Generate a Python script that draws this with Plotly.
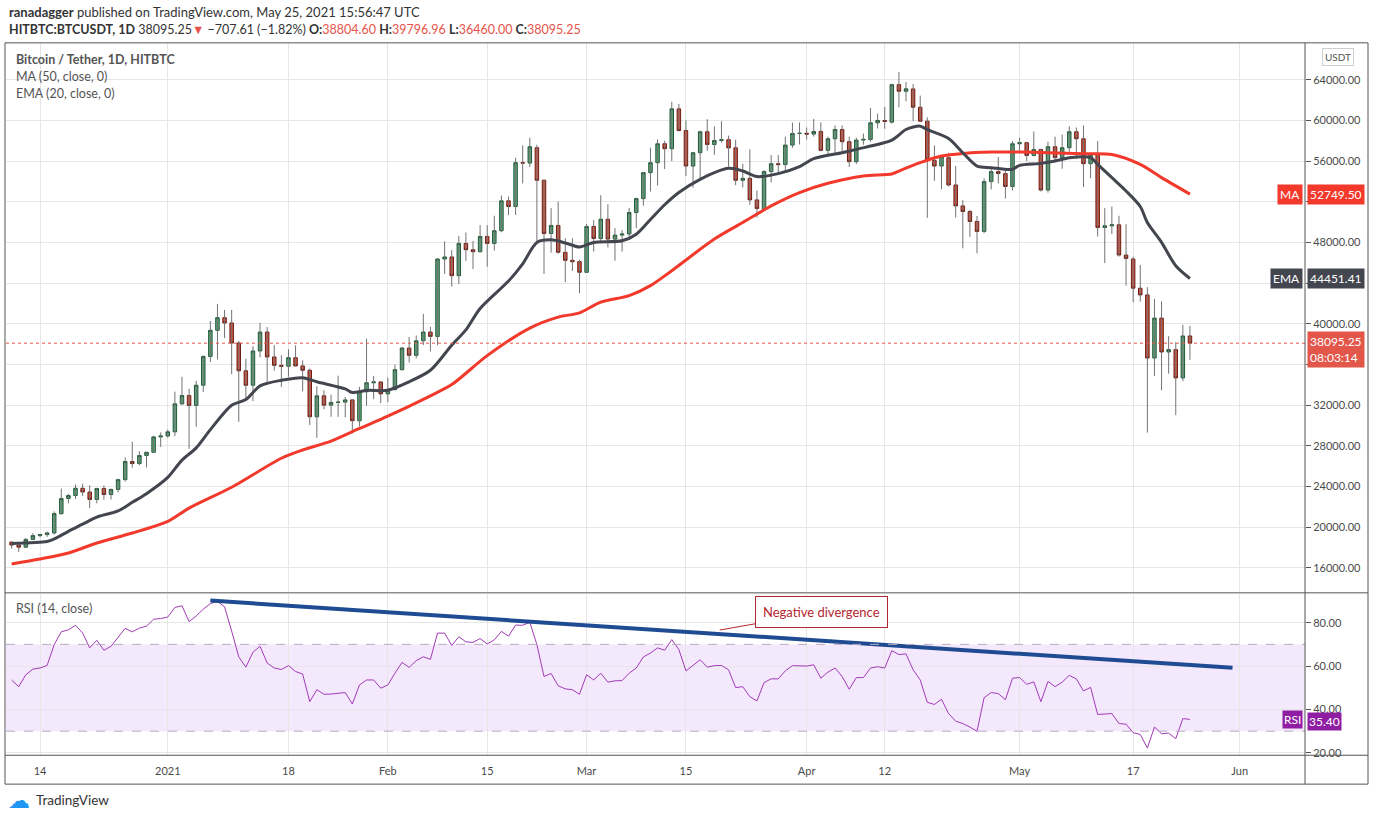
import pandas as pd
import plotly.graph_objects as go

# daily candles, HITBTC BTC/USDT, 10 Dec 2020 -> 25 May 2021
dates = pd.date_range("2020-12-10", "2021-05-25", freq="D")

opens = [
    18540, 18250, 18040, 18800, 19180, 19280, 19440, 21340, 22820, 23120,
    23830, 23460, 22730, 23810, 23220, 23720, 24680, 26460, 26260, 27050,
    27370, 28880, 28970, 29380, 32130, 32950, 31980, 33960, 36790, 39360,
    40600, 40080, 38110, 35380, 33960, 37330, 39190, 36740, 35920, 35830,
    36670, 35860, 35430, 30860, 32920, 32000, 32270, 32300, 32520, 30470,
    33320, 34200, 34280, 33110, 33530, 35490, 37620, 36900, 38330, 39190,
    38760, 46370, 46570, 44730, 47900, 47280, 47090, 48590, 47900, 49150,
    52090, 51530, 55840, 55800, 57310, 54110, 48880, 49670, 47030, 46240,
    46110, 45060, 49570, 48390, 50280, 48330, 48720, 48830, 50940, 52310,
    54860, 55840, 57700, 57210, 61130, 59000, 55510, 56820, 58880, 57630,
    58020, 58100, 57300, 54110, 54300, 52180, 51200, 54960, 55740, 55650,
    57570, 58710, 58730, 58650, 58910, 57050, 58190, 59100, 57900, 55940,
    58060, 58120, 59760, 59990, 59820, 63510, 62860, 63090, 61290, 59920,
    56070, 55510, 56330, 53650, 51590, 51040, 50060, 49080, 53980, 54960,
    54770, 53500, 57700, 57800, 56550, 57140, 53150, 57410, 56330, 57310,
    58880, 58190, 55740, 56650, 49470, 49630, 49730, 46760, 46370, 43500,
    42840, 36640, 40560, 37230, 37460, 34680, 38804.60,
]
highs = [
    18570, 18290, 18950, 19420, 19350, 19570, 21560, 23800, 23280, 24200,
    24280, 24120, 23870, 24110, 23790, 24780, 26870, 28400, 27480, 27400,
    28990, 29320, 29600, 33330, 34780, 33600, 34400, 36900, 40270, 41960,
    41370, 41370, 38320, 36570, 37800, 40100, 39680, 37900, 36900, 37490,
    37880, 36400, 35600, 33860, 33470, 33040, 34900, 32800, 32580, 33800,
    38530, 34880, 34300, 34700, 35980, 37700, 38700, 38850, 40980, 39700,
    46450, 48100, 47250, 48650, 48980, 48150, 49700, 49700, 50620, 52600,
    52510, 56330, 57540, 58290, 57600, 54200, 51370, 52020, 48420, 48420,
    46300, 49800, 50200, 52640, 51750, 49400, 49200, 51400, 52400, 54900,
    57310, 58120, 58000, 61820, 61620, 60000, 56900, 58980, 60120, 59400,
    59920, 58500, 58100, 55740, 57150, 53100, 55100, 56590, 56600, 58390,
    59770, 59800, 59300, 60150, 59800, 58400, 59500, 59500, 58400, 58300,
    58700, 61230, 60670, 61320, 63600, 64750, 63770, 63560, 62430, 60300,
    57530, 56600, 56800, 55510, 52150, 51200, 50600, 54300, 55450, 56390,
    55300, 57950, 58300, 57900, 58900, 57200, 57900, 58400, 58600, 59430,
    59300, 59500, 56800, 57960, 51370, 51530, 50620, 49800, 46600, 45780,
    43600, 42450, 42220, 38790, 38200, 39900, 39796.96,
]
lows = [
    17900, 17570, 18020, 18720, 19000, 19050, 19290, 21230, 22350, 22780,
    23080, 21880, 22350, 22700, 22730, 23440, 24500, 25860, 26100, 25880,
    27320, 27900, 28800, 28950, 32000, 27700, 29880, 33300, 36250, 36500,
    38600, 35030, 30370, 32550, 32400, 36700, 34290, 35400, 33800, 34800,
    35800, 33370, 30040, 28800, 31600, 30860, 30860, 30800, 29220, 29900,
    31940, 32600, 32200, 32300, 33450, 35400, 36200, 36600, 37900, 37290,
    37900, 44900, 43660, 43900, 46200, 45380, 47000, 45610, 47200, 49000,
    50680, 50700, 53800, 55400, 48000, 44900, 47000, 46900, 44080, 45200,
    43010, 45000, 47100, 48100, 47510, 46200, 47100, 48400, 49400, 51600,
    53000, 53600, 55200, 56000, 58900, 54530, 53390, 54200, 57000, 56600,
    57800, 55450, 53620, 53400, 51690, 50450, 51200, 53900, 54700, 54900,
    57300, 57630, 58100, 58400, 56950, 56500, 56800, 56700, 55410, 55700,
    57600, 57900, 59200, 59170, 59700, 61290, 61870, 59920, 59900, 50410,
    54070, 53220, 53500, 50450, 47420, 48560, 46930, 48900, 53200, 53800,
    52310, 53100, 56900, 56000, 56450, 53000, 52900, 55900, 55250, 56900,
    56200, 53450, 54300, 48590, 45970, 48820, 46600, 43750, 42120, 42180,
    29300, 34880, 33470, 35100, 31020, 34360, 36460.00,
]
closes = [
    18250, 18040, 18800, 19180, 19280, 19440, 21340, 22820, 23120, 23830,
    23460, 22730, 23810, 23220, 23720, 24680, 26460, 26260, 27050, 27370,
    28880, 28970, 29380, 32130, 32950, 31980, 33960, 36790, 39360, 40600,
    40080, 38110, 35380, 33960, 37330, 39190, 36740, 35920, 35830, 36670,
    35860, 35430, 30860, 32920, 32000, 32270, 32300, 32520, 30470, 33320,
    34200, 34280, 33110, 33530, 35490, 37620, 36900, 38330, 39190, 38760,
    46370, 46570, 44730, 47900, 47280, 47090, 48590, 47900, 49150, 52090,
    51530, 55840, 55800, 57410, 54110, 48880, 49670, 47030, 46240, 46110,
    45060, 49570, 48390, 50280, 48330, 48720, 48830, 50940, 52310, 54860,
    55840, 57700, 57210, 61130, 59000, 55510, 56820, 58880, 57630, 58020,
    58100, 57300, 54110, 54300, 52180, 51330, 54960, 55740, 55650, 57570,
    58710, 58730, 58650, 58900, 57050, 58190, 59100, 57900, 55940, 58060,
    58130, 59760, 59990, 59890, 63510, 62860, 63100, 61290, 59920, 56160,
    55510, 56430, 53650, 51590, 51040, 50060, 49080, 53980, 54960, 54770,
    53500, 57700, 57800, 56550, 57140, 53150, 57410, 56330, 57310, 58880,
    58190, 55740, 56650, 49470, 49630, 49730, 46760, 46430, 43500, 42840,
    36640, 40560, 37230, 37460, 34680, 38802.86, 38095.25,
]

rsi = [
    53.6, 50.5, 56.0, 58.6, 59.1, 60.3, 69.9, 75.8, 76.7, 78.8,
    75.3, 68.4, 71.9, 67.3, 69.1, 73.0, 77.4, 75.8, 77.5, 78.4,
    81.6, 81.9, 82.6, 87.0, 87.8, 80.5, 83.1, 86.2, 88.8, 89.8,
    87.3, 76.1, 64.2, 59.5, 66.4, 69.1, 61.4, 59.1, 58.4, 60.2,
    57.5, 56.3, 43.6, 49.1, 47.0, 47.1, 47.4, 47.8, 42.5, 51.3,
    53.6, 53.6, 49.8, 51.3, 56.7, 61.7, 59.4, 62.5, 64.3, 63.1,
    75.2, 75.2, 69.5, 73.5, 71.2, 70.9, 72.7, 70.2, 72.1, 76.0,
    73.8, 78.9, 78.8, 80.2, 69.9, 55.2, 56.6, 50.9, 49.5, 49.1,
    47.0, 56.0, 53.6, 56.7, 52.6, 53.2, 53.3, 56.7, 59.1, 64.2,
    66.0, 68.4, 67.3, 72.2, 67.6, 57.8, 60.3, 62.9, 59.5, 60.2,
    60.3, 58.3, 50.1, 50.5, 45.9, 43.9, 52.4, 54.1, 54.1, 57.8,
    60.2, 60.0, 60.0, 60.6, 54.4, 57.2, 59.1, 55.2, 49.3, 54.7,
    54.7, 59.1, 59.7, 59.1, 67.1, 65.3, 65.6, 58.3, 53.6, 43.3,
    42.3, 44.7, 38.1, 34.6, 33.5, 31.9, 29.9, 45.4, 47.8, 47.3,
    44.5, 54.4, 54.7, 51.6, 52.7, 43.6, 52.9, 50.5, 52.6, 55.7,
    54.1, 48.5, 50.2, 37.7, 38.0, 38.1, 33.5, 33.2, 29.3, 28.5,
    22.2, 31.9, 28.8, 29.1, 26.5, 35.8, 35.4,
]

# indicator lines
ma_dates = ["2020-12-10", "2020-12-14", "2020-12-18", "2020-12-22", "2020-12-27",
            "2021-01-01", "2021-01-04", "2021-01-10", "2021-01-17", "2021-01-20",
            "2021-01-24", "2021-01-28", "2021-02-01", "2021-02-07", "2021-02-10",
            "2021-02-15", "2021-02-21", "2021-02-25", "2021-02-28", "2021-03-03",
            "2021-03-07", "2021-03-10", "2021-03-13", "2021-03-19", "2021-03-23",
            "2021-03-27", "2021-03-31", "2021-04-04", "2021-04-09", "2021-04-13",
            "2021-04-14", "2021-04-17", "2021-04-20", "2021-04-23", "2021-04-27",
            "2021-05-01", "2021-05-05", "2021-05-10", "2021-05-14", "2021-05-18",
            "2021-05-21", "2021-05-25"]
ma_vals = [16390, 16880, 17470, 18450, 19430,
           20570, 21880, 23930, 26780, 27590,
           28470, 29710, 30920, 32920, 34020,
           36870, 39580, 40660, 41080, 42130,
           42770, 43750, 45220, 48330, 49960,
           51590, 52900, 53810, 54530, 54720,
           55020, 55840, 56490, 56750, 56880,
           56880, 56820, 56720, 56650, 55670,
           54370, 52749.50]

ema_dates = ["2020-12-10", "2020-12-15", "2020-12-16", "2020-12-18", "2020-12-20",
             "2020-12-22", "2020-12-25", "2020-12-27", "2020-12-29", "2021-01-01",
             "2021-01-03", "2021-01-05", "2021-01-07", "2021-01-10", "2021-01-12",
             "2021-01-14", "2021-01-17", "2021-01-20", "2021-01-22", "2021-01-26",
             "2021-01-27", "2021-01-29", "2021-02-01", "2021-02-04", "2021-02-07",
             "2021-02-10", "2021-02-12", "2021-02-14", "2021-02-18", "2021-02-20",
             "2021-02-22", "2021-02-24", "2021-02-26", "2021-02-28", "2021-03-02",
             "2021-03-06", "2021-03-08", "2021-03-10", "2021-03-12", "2021-03-14",
             "2021-03-17", "2021-03-21", "2021-03-23", "2021-03-25", "2021-03-28",
             "2021-03-31", "2021-04-02", "2021-04-06", "2021-04-08", "2021-04-13",
             "2021-04-15", "2021-04-17", "2021-04-18", "2021-04-21", "2021-04-23",
             "2021-04-25", "2021-04-27", "2021-04-30", "2021-05-01", "2021-05-04",
             "2021-05-06", "2021-05-08", "2021-05-11", "2021-05-12", "2021-05-14",
             "2021-05-16", "2021-05-18", "2021-05-19", "2021-05-21", "2021-05-23",
             "2021-05-25"]
ema_vals = [18400, 18600, 18850, 19600, 20300,
            21000, 21600, 22450, 23300, 24900,
            26600, 27800, 29600, 32000, 32550,
            33900, 34450, 34700, 34300, 33600,
            33250, 33450, 33470, 34300, 35430,
            37900, 39400, 41500, 44200, 45900,
            48000, 48250, 47950, 47550, 48000,
            48160, 48800, 50250, 51700, 52900,
            54200, 55280, 55020, 54470, 54760,
            55450, 56230, 56820, 57150, 58050,
            59100, 59430, 59100, 58220, 56820,
            55510, 55350, 55180, 55580, 55770,
            56000, 56330, 56330, 55670, 54370,
            53060, 51530, 49960, 48000, 45710,
            44451.41]

tick_dates = ["2020-12-14", "2021-01-01", "2021-01-18", "2021-02-01", "2021-02-15", "2021-03-01",
              "2021-03-15", "2021-04-01", "2021-04-12", "2021-05-01", "2021-05-17", "2021-06-01"]
tick_text = ["14", "2021", "18", "Feb", "15", "Mar", "15", "Apr", "12", "May", "17", "Jun"]

price_ticks = [16000, 20000, 24000, 28000, 32000, 36000, 40000, 44000, 48000, 52000, 56000, 60000, 64000]
# levels sitting under the price tags on the right scale
hidden_ticks = [36000, 44000, 52000]
rsi_ticks = [20, 40, 60, 80]

# RSI trend line drawing and callout
trend_dates = ["2021-01-07", "2021-05-31"]
trend_vals = [90.2, 59.2]
callout_date = "2021-03-19 18:00"
callout_val = 76.6

W, H = 1376, 823
FONT = "Lato"


def px(x, y):
    return x / W, 1 - y / H


x_dom = [6 / W, 1305 / W]
x_range = ["2020-12-09 05:00", "2021-06-10 05:00"]

# wicks drawn separately so they stay grey like TradingView
wick_x, wick_y = [], []
for d, h, l in zip(dates, highs, lows):
    wick_x += [d, d, None]
    wick_y += [l, h, None]
body_hi = [max(o, c) for o, c in zip(opens, closes)]
body_lo = [min(o, c) for o, c in zip(opens, closes)]

fig = go.Figure()
fig.add_trace(go.Scatter(x=wick_x, y=wick_y, mode="lines", line=dict(color="#737375", width=1),
                         hoverinfo="skip", xaxis="x", yaxis="y"))
fig.add_trace(go.Candlestick(
    x=dates, open=opens, high=body_hi, low=body_lo, close=closes,
    increasing=dict(fillcolor="#5fa77d", line=dict(color="#1f5a36", width=1)),
    decreasing=dict(fillcolor="#d6503d", line=dict(color="#6e1d12", width=1)),
    whiskerwidth=0, xaxis="x", yaxis="y"))
fig.add_trace(go.Scatter(x=ma_dates, y=ma_vals, mode="lines",
                         line=dict(color="#f2392b", width=3, shape="spline", smoothing=0.8),
                         xaxis="x", yaxis="y"))
fig.add_trace(go.Scatter(x=ema_dates, y=ema_vals, mode="lines",
                         line=dict(color="#43464f", width=3, shape="spline", smoothing=0.8),
                         xaxis="x", yaxis="y"))
fig.add_trace(go.Scatter(x=dates, y=rsi, mode="lines", line=dict(color="#a23ab6", width=1),
                         xaxis="x2", yaxis="y2"))
fig.add_trace(go.Scatter(x=trend_dates, y=trend_vals, mode="lines", line=dict(color="#1f4b92", width=4),
                         xaxis="x2", yaxis="y2"))

grid = "#e6e6e6"
axis_font = dict(family=FONT, size=11, color="#4a4a4a")

shapes = [
    # rsi band and levels
    dict(type="rect", xref="x2 domain", x0=0, x1=1, yref="y2", y0=30, y1=70,
         fillcolor="#f4e8fc", line=dict(width=0), layer="below"),
    dict(type="line", xref="x2 domain", x0=0, x1=1, yref="y2", y0=70, y1=70,
         line=dict(color="#b9abc4", width=1, dash="dash")),
    dict(type="line", xref="x2 domain", x0=0, x1=1, yref="y2", y0=30, y1=30,
         line=dict(color="#b9abc4", width=1, dash="dash")),
    # last price line
    dict(type="line", xref="x domain", x0=0, x1=1, yref="y", y0=closes[-1], y1=closes[-1],
         line=dict(color="#e2574a", width=1, dash="dot")),
]
# frame and pane separators
fx0, fy0 = px(5, 787)
fx1, fy1 = px(1368, 43)
shapes.append(dict(type="rect", xref="paper", yref="paper", x0=fx0, y0=fy0, x1=fx1, y1=fy1,
                   line=dict(color="#555555", width=1)))
for yy in (595, 758):
    shapes.append(dict(type="line", xref="paper", yref="paper", x0=fx0, x1=fx1,
                       y0=px(0, yy)[1], y1=px(0, yy)[1], line=dict(color="#555555", width=1)))
shapes.append(dict(type="line", xref="paper", yref="paper", x0=1305 / W, x1=1305 / W,
                   y0=fy0, y1=fy1, line=dict(color="#555555", width=1)))

annotations = []


def label(x, y, text, size=12, color="#333333", **kw):
    ax_, ay_ = px(x, y)
    annotations.append(dict(xref="paper", yref="paper", x=ax_, y=ay_, text=text, showarrow=False,
                            xanchor=kw.pop("xanchor", "left"), yanchor=kw.pop("yanchor", "middle"),
                            font=dict(family=FONT, size=size, color=color), **kw))


chg = closes[-1] - closes[-2]
pct = chg / closes[-2] * 100
red = "#e8534a"
label(7, 12, "<b>ranadagger</b> published on TradingView.com, May 25, 2021 15:56:47 UTC", size=13)
label(7, 30,
      f"<b>HITBTC:BTCUSDT, 1D</b> {closes[-1]:.2f}<span style='color:{red}'>▼</span> "
      f"\u2212{abs(chg):.2f} (\u2212{abs(pct):.2f}%) "
      f"<b>O:</b><span style='color:{red}'>{opens[-1]:.2f}</span> "
      f"<b>H:</b><span style='color:{red}'>{highs[-1]:.2f}</span> "
      f"<b>L:</b><span style='color:{red}'>{lows[-1]:.2f}</span> "
      f"<b>C:</b><span style='color:{red}'>{closes[-1]:.2f}</span>", size=12.5)
label(14, 60, "<b>Bitcoin / Tether, 1D, HITBTC</b>", size=12.5, color="#555555")
label(14, 77, "MA (50, close, 0)", size=12.5, color="#555555")
label(14, 94, "EMA (20, close, 0)", size=12.5, color="#555555")
label(14, 611, "RSI (14, close)", size=12.5, color="#555555")
label(34, 803, "TradingView", size=13.5, color="#333333")
label(6, 802, "☁", size=22, color="#2196f3")
label(1338, 57, "USDT", size=10, color="#555555", xanchor="center",
      bordercolor="#cfcfcf", borderwidth=1, borderpad=2, bgcolor="white")


def axis_tag(yref, yval, value_text, name, bg, yshift=0, pad=2):
    annotations.append(dict(xref="paper", yref=yref, x=1307 / W, y=yval, text=value_text,
                            showarrow=False, xanchor="left", yanchor="middle", yshift=yshift,
                            bgcolor=bg, borderpad=pad, align="left",
                            font=dict(family=FONT, size=12, color="white")))
    if name:
        annotations.append(dict(xref="paper", yref=yref, x=1303 / W, y=yval, text=name,
                                showarrow=False, xanchor="right", yanchor="middle",
                                bgcolor=bg, borderpad=pad,
                                font=dict(family=FONT, size=12, color="white")))


axis_tag("y", ma_vals[-1], f"{ma_vals[-1]:.2f}", "MA", "#f2392b")
axis_tag("y", ema_vals[-1], f"{ema_vals[-1]:.2f}", "EMA", "#43464f")
axis_tag("y", closes[-1], f"{closes[-1]:.2f}<br>08:03:14", None, "#e2574a", yshift=-6)
axis_tag("y2", rsi[-1], f"{rsi[-1]:.2f}", "RSI", "#8f1ea3", yshift=-2, pad=1)

annotations.append(dict(xref="x2", yref="y2", x=callout_date, y=callout_val,
                        text="Negative divergence", showarrow=True, arrowhead=0,
                        arrowcolor="#b3262e", arrowwidth=1, ax=102, ay=-18,
                        bordercolor="#b3262e", borderwidth=1, borderpad=7, bgcolor="white",
                        font=dict(family=FONT, size=13, color="#b3262e")))

price_text = ["" if v in hidden_ticks else f"{v:.2f}" for v in price_ticks]

fig.update_layout(
    width=W, height=H, margin=dict(l=0, r=0, t=0, b=0),
    paper_bgcolor="white", plot_bgcolor="white", showlegend=False,
    font=dict(family=FONT),
    xaxis=dict(domain=x_dom, range=x_range, anchor="y", tickvals=tick_dates, showticklabels=False,
               showgrid=True, gridcolor=grid, zeroline=False, showline=False, ticks="",
               rangeslider=dict(visible=False)),
    yaxis=dict(domain=[px(0, 594)[1], px(0, 43)[1]], range=[13650, 67620], side="right",
               anchor="x", tickvals=price_ticks, ticktext=price_text, showgrid=True, gridcolor=grid,
               zeroline=False, showline=False, ticks="outside", ticklen=5, tickcolor="#555555",
               tickfont=axis_font),
    xaxis2=dict(domain=x_dom, range=x_range, anchor="y2", matches="x", tickvals=tick_dates,
                ticktext=tick_text, showgrid=True, gridcolor=grid, zeroline=False, showline=False,
                ticks="outside", ticklen=6, tickcolor="rgba(0,0,0,0)", tickfont=axis_font),
    yaxis2=dict(domain=[px(0, 758)[1], px(0, 596)[1]], range=[18.9, 93.3], side="right",
                anchor="x2", tickvals=rsi_ticks, ticktext=[f"{v:.2f}" for v in rsi_ticks],
                showgrid=True, gridcolor=grid, zeroline=False, showline=False, ticks="outside",
                ticklen=5, tickcolor="#555555", tickfont=axis_font),
    shapes=shapes, annotations=annotations,
)

# the page's default body margin pushes the figure off by 8px, drop it
fig.write_html("out.html", config={"displayModeBar": False},
               post_script="document.body.style.margin='0px';")
